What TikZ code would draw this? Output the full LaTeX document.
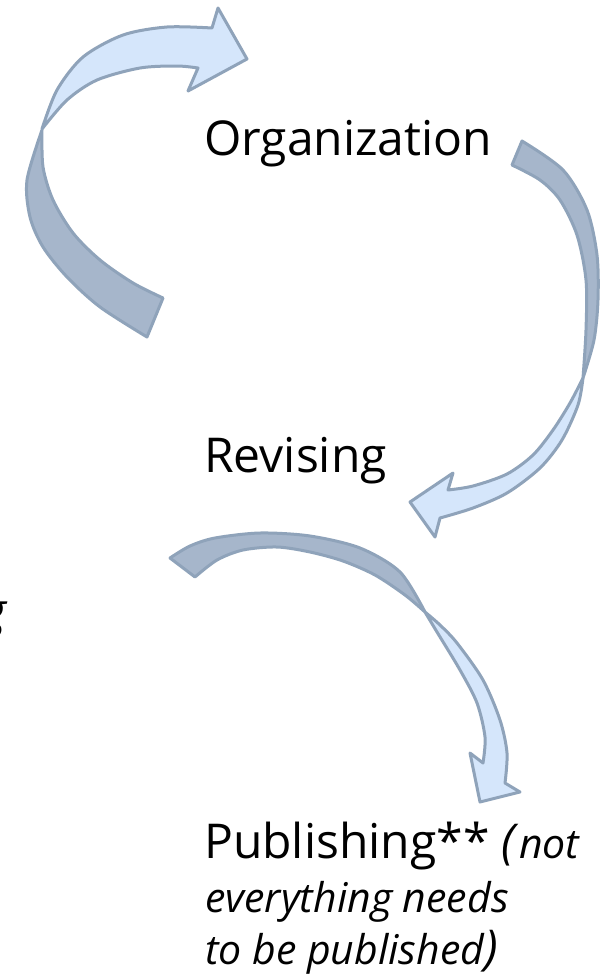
\documentclass[tikz,border=0pt]{standalone}
\usepackage{fontspec}
\setmainfont{Open Sans}
\definecolor{lightfill}{HTML}{D5E6FB}
\definecolor{darkfill}{HTML}{A6B6CB}
\definecolor{edgecol}{HTML}{8FA3BA}
\tikzset{
  lightpart/.style={fill=lightfill, draw=edgecol, line width=3pt, line join=round},
  darkpart/.style={fill=darkfill, draw=edgecol, line width=3pt, line join=round},
  bigtext/.style={inner sep=0pt, anchor=base west, font=\fontsize{48}{56}\selectfont},
  smalltext/.style={inner sep=0pt, anchor=base west, font=\fontsize{41}{48}\selectfont\itshape},
}
\begin{document}
\begin{tikzpicture}[x=1pt,y=-1pt]
\useasboundingbox (0,0) rectangle (613,980);
\clip (0,0) rectangle (613,980);
\fill[white] (0,0) rectangle (613,980);

% arrow 1 (top left)
\draw[darkpart] plot[smooth] coordinates {(42,130) (27,180) (30,217) (43,247) (67,277) (100,307) (147,337)}
  -- (163,298)
  -- plot[smooth] coordinates {(163,298) (133,283) (100,260) (73,233) (53,200) (43,167) (42,130)} -- cycle;
\draw[lightpart] plot[smooth] coordinates {(42,129) (57,90) (83,57) (123,35) (167,27) (212,28)}
  -- (218,8) -- (247,59) -- (188,91) -- (198,68)
  -- plot[smooth] coordinates {(198,68) (177,66) (140,68) (97,80) (67,100) (42,129)} -- cycle;

% arrow 2 (right)
\draw[darkpart] plot[smooth] coordinates {(522,141) (563,170) (587,210) (597,255) (598,300) (594,340) (583,378)}
  -- plot[smooth] coordinates {(583,378) (586,330) (586,280) (577,235) (560,200) (540,180) (512,165)} -- cycle;
\draw[lightpart] plot[smooth] coordinates {(583,378) (578,405) (562,440) (540,468) (507,493) (473,508) (440,518)}
  -- (435,537) -- (410,502) -- (453,473) -- (448,490)
  -- plot[smooth] coordinates {(448,490) (473,486) (507,474) (533,455) (553,430) (570,403) (583,378)} -- cycle;

% arrow 3 (middle)
\draw[darkpart] plot[smooth] coordinates {(170,558) (190,546) (215,538) (260,533) (310,536) (360,548) (400,572) (425,612)}
  -- plot[smooth] coordinates {(425,612) (405,595) (375,575) (343,561) (310,552) (277,547) (243,550) (217,560) (195,577)} -- cycle;
\draw[lightpart] plot[smooth] coordinates {(425,612) (440,625) (457,643) (483,680) (500,720) (507,753) (505,783)}
  -- (520,792) -- (480,802) -- (470,753) -- (483,763)
  -- plot[smooth] coordinates {(483,763) (485,737) (477,703) (460,670) (437,632) (425,612)} -- cycle;

% texts
\node[bigtext] (org) at (204,155) {Organization};
\node[bigtext] (rev) at (204,472) {Revising};
\node[bigtext] (pub) at (204,858) {Publishing** \textit{(}{\fontsize{41}{48}\selectfont\itshape not}};
\node[smalltext] (pub2) at (205,912) {everything needs};
\node[smalltext] (pub3) at (205,964) {to be published\fontsize{48}{56}\selectfont)};
\node[inner sep=0pt, anchor=base east, font=\fontsize{48}{56}\selectfont\itshape] (frag) at (7,627) {g};
\end{tikzpicture}
\end{document}
